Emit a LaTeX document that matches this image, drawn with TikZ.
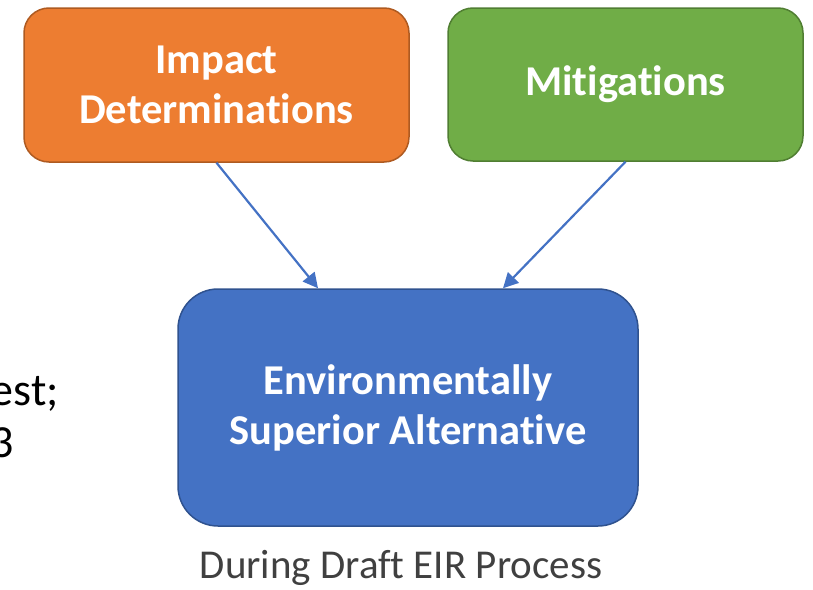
\documentclass[tikz,border=0pt]{standalone}
\usepackage{fontspec}
\setmainfont[Ligatures=NoCommon]{Carlito}
\usetikzlibrary{arrows.meta,calc}
\definecolor{orfill}{HTML}{ED7D31}
\definecolor{ordraw}{HTML}{AE5A21}
\definecolor{grfill}{HTML}{70AD47}
\definecolor{grdraw}{HTML}{507E32}
\definecolor{blfill}{HTML}{4472C4}
\definecolor{bldraw}{HTML}{2F528F}
\definecolor{captxt}{HTML}{404040}
\tikzset{
  boxstyle/.style={rectangle, line width=1.5pt, inner sep=0pt, align=center,
    text=white, font=\bfseries\fontsize{42.5}{50}\selectfont},
  arr/.style={draw=blfill, line width=2.2pt, -{Triangle[length=15pt,width=15pt]}}
}
\begin{document}
\begin{tikzpicture}[x=1pt,y=-1pt]
\useasboundingbox (0,0) rectangle (813,589);
\begin{scope}
\clip (0,0) rectangle (813,589);
\node[boxstyle, fill=orfill, draw=ordraw, rounded corners=25pt,
  minimum width=385pt, minimum height=154pt] (imp) at (216.5,85) {Impact\\Determinations};
\node[boxstyle, fill=grfill, draw=grdraw, rounded corners=25pt,
  minimum width=355pt, minimum height=153pt] (mit) at (625.5,84.5) {Mitigations};
\node[boxstyle, fill=blfill, draw=bldraw, rounded corners=40pt,
  minimum width=460pt, minimum height=237pt] (env) at (408,407.5) {Environmentally\\Superior Alternative};
\node[text=captxt, font=\fontsize{41}{48}\selectfont, anchor=base] (cap) at (401,578) {During Draft EIR Process};
\node[text=black, font=\fontsize{46}{52}\selectfont, anchor=base east, inner sep=0pt] (lt1) at (59,405) {est;};
\node[text=black, font=\fontsize{46}{52}\selectfont, anchor=base east, inner sep=0pt] (lt2) at (14,457) {3};
\draw[arr] (imp.south) -- ([xshift=-90pt]env.north);
\draw[arr] (mit.south) -- ([xshift=95pt]env.north);
\end{scope}
\end{tikzpicture}
\end{document}
